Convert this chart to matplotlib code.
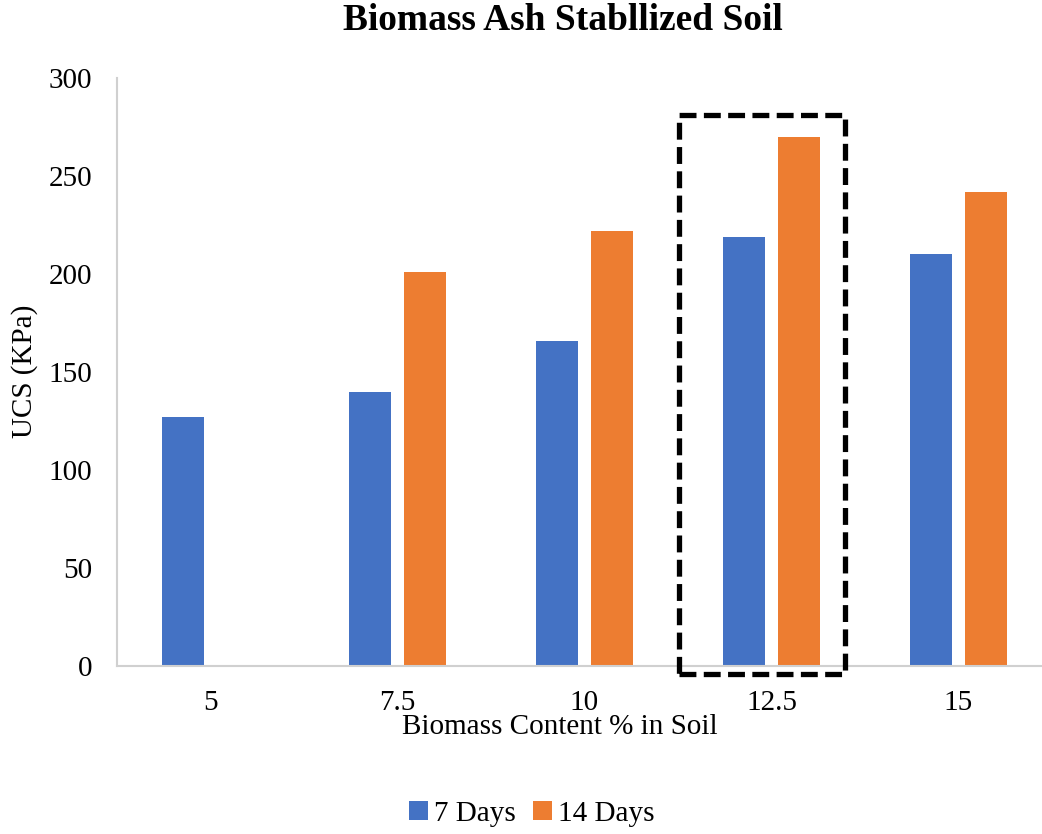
import matplotlib
matplotlib.use("Agg")
import matplotlib.pyplot as plt
import numpy as np
from matplotlib.patches import Rectangle

plt.rcParams["font.family"] = ["Liberation Serif", "DejaVu Serif"]

categories = ["5", "7.5", "10", "12.5", "15"]
days7 = [127, 140, 166, 219, 210]
days14 = [0, 201, 222, 270, 242]

BLUE = "#4472C4"
ORANGE = "#ED7D31"
FS = 21

fig = plt.figure(figsize=(10.42, 8.34), dpi=100)
ax = fig.add_axes([117 / 1042, 1 - 666 / 834, 935 / 1042, 588 / 834])

x = np.arange(len(categories))
w = 0.225
off = 0.145
ax.bar(x - off, days7, w, color=BLUE, label="7 Days")
ax.bar(x + off, days14, w, color=ORANGE, label="14 Days")

# highlight box around 12.5 %
ax.add_patch(Rectangle((2.505, -4), 0.89, 285, fill=False, ec="black",
                       lw=3.8, ls=(0, (3.2, 1.4)), clip_on=False, zorder=5))

ax.set_xlim(-0.5, 4.5)
ax.set_ylim(0, 300)
ax.set_yticks(range(0, 301, 50))
ax.set_xticks(x)
ax.set_xticklabels(categories)
ax.tick_params(length=0, labelsize=FS, colors="black")
ax.tick_params(axis="y", pad=18)
ax.tick_params(axis="x", pad=17)
for s in ["top", "right"]:
    ax.spines[s].set_visible(False)
for s in ["left", "bottom"]:
    ax.spines[s].set_color("#d0d0d0")
    ax.spines[s].set_linewidth(1.5)

fig.text(25 / 1042, 1 - 371 / 834, "UCS (KPa)", fontsize=FS, rotation=90,
         ha="center", va="center")
fig.text(0.5375, 1 - 727 / 834, "Biomass Content % in Soil", fontsize=FS,
         ha="center", va="center")
fig.text(0.54, 1 - 21 / 834, "Biomass Ash Stabllized Soil", fontsize=27,
         fontweight="bold", ha="center", va="center")

fig.legend(loc="center", bbox_to_anchor=(532 / 1042, 1 - 814 / 834), ncol=2,
           frameon=False, fontsize=FS, handlelength=0.65, handleheight=0.65,
           handletextpad=0.2, columnspacing=0.6, borderpad=0)

fig.savefig("out.png", dpi=100)
